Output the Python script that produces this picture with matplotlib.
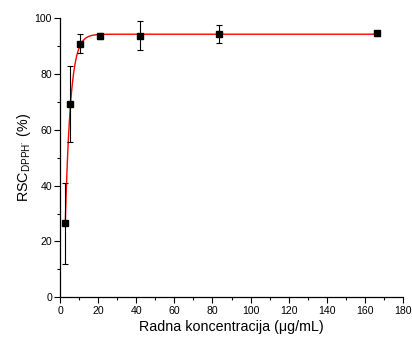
import numpy as np
import matplotlib
matplotlib.use("Agg")
import matplotlib.pyplot as plt
from matplotlib.ticker import MultipleLocator

plt.rcParams['font.family'] = ['Liberation Sans', 'DejaVu Sans']
plt.rcParams['mathtext.fontset'] = 'custom'
plt.rcParams['mathtext.rm'] = 'Liberation Sans'
plt.rcParams['mathtext.it'] = 'Liberation Sans:italic'

# measured data
conc = [2.6, 5.2, 10.4, 20.8, 41.7, 83.3, 166.7]
rsc = [26.5, 69.1, 90.8, 93.6, 93.7, 94.3, 94.5]
rsc_err = [14.6, 13.6, 3.4, 1.0, 5.3, 3.3, 0.9]

# fitted exponential association curve parameters
fit_plateau = 94.2
fit_y0 = 26.5
fit_x0 = 2.6
fit_k = 0.36

xf = np.linspace(fit_x0, conc[-1], 600)
yf = fit_plateau - (fit_plateau - fit_y0) * np.exp(-fit_k * (xf - fit_x0))

fig = plt.figure(figsize=(4.12, 3.37), dpi=100)
ax = fig.add_axes([0.1464, 0.1178, 0.831, 0.8288])

ax.plot(xf, yf, color='red', lw=1.0, zorder=2)
ax.errorbar(conc, rsc, yerr=rsc_err, fmt='s', color='black', ms=5,
            ecolor='black', elinewidth=0.8, capsize=2.5, capthick=0.8, zorder=3)

ax.set_xlim(0, 180)
ax.set_ylim(0, 100)
ax.xaxis.set_major_locator(MultipleLocator(20))
ax.xaxis.set_minor_locator(MultipleLocator(10))
ax.yaxis.set_major_locator(MultipleLocator(20))
ax.yaxis.set_minor_locator(MultipleLocator(10))
ax.tick_params(which='major', direction='out', length=4, width=0.8, labelsize=7.6, pad=2)
ax.tick_params(which='minor', direction='out', length=2, width=0.8)
ax.spines['top'].set_visible(False)
ax.spines['right'].set_visible(False)
ax.spines['left'].set_linewidth(0.9)
ax.spines['bottom'].set_linewidth(0.9)

ax.set_xlabel('Radna koncentracija (μg/mL)', fontsize=10.3, labelpad=3)
ax.set_ylabel('RSC$_{\\mathrm{DPPH\u02d9}}$ (%)', fontsize=10.3, labelpad=1)

fig.savefig('out.png', dpi=100)
